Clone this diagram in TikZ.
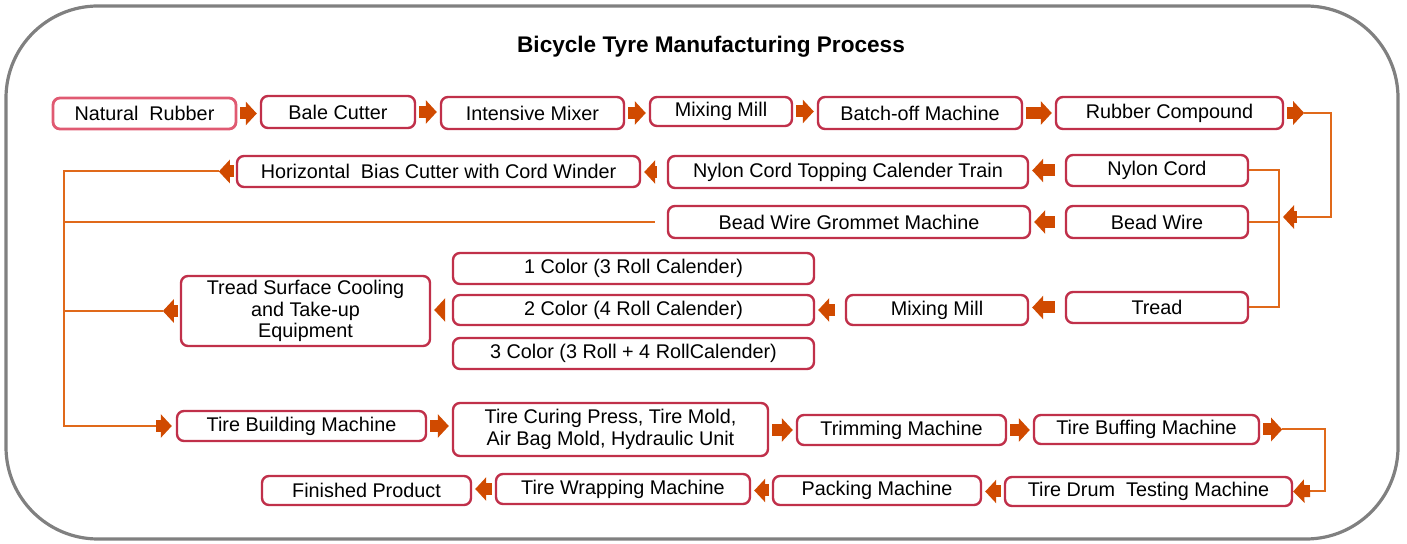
\documentclass[tikz,border=0pt]{standalone}
\usepackage{fontspec}
\setmainfont{Liberation Sans}
\usepackage{xcolor}
\definecolor{cFrame}{HTML}{808080}
\definecolor{cBox}{HTML}{C0304A}
\definecolor{cStart}{HTML}{E05A72}
\definecolor{cArrow}{HTML}{D04A00}
\definecolor{cLine}{HTML}{E0691A}
\usepackage{tikz}
\usetikzlibrary{positioning,arrows.meta,calc}
\tikzset{
  step-box/.style={draw=cBox,line width=1.2pt,rounded corners=3.5pt,
    inner sep=1pt,align=center,font=\fontsize{9.9}{10.8}\selectfont},
  start-box/.style={step-box,draw=cStart,line width=1.4pt},
  blk/.style={-{Triangle[length=5.5pt,width=11.5pt]},line width=6pt,draw=cArrow,
    shorten <=1.5pt,shorten >=1.5pt},
  blk-left/.style={blk,shorten <=5pt},
  feed/.style={draw=cLine,line width=1pt},
  wh/.style 2 args={minimum width=#1*0.5pt,minimum height=#2*0.5pt},
}

\begin{document}
\begin{tikzpicture}[x=0.5pt,y=-0.5pt]
  \useasboundingbox (0,0) rectangle (1407,544);
  \draw[cFrame,line width=1.6pt,rounded corners=46pt] (6,6) rectangle (1398,539);
  \node[font=\fontsize{11.3}{13}\selectfont\bfseries] (title) at (711,47) {Bicycle Tyre Manufacturing Process};

  % rubber line
  \node[start-box,wh={183}{31}] (nr) at (144.5,113.5) {Natural\ \ Rubber};
  \node[step-box,wh={154}{32}] (bc) at (338,112) {Bale Cutter};
  \node[step-box,wh={183}{32}] (im) at (532.5,113) {Intensive Mixer};
  \node[step-box,wh={142}{29}] (mm) at (721,111.5) {Mixing Mill};
  \node[step-box,wh={204}{32}] (bo) at (920,113) {Batch-off Machine};
  \node[step-box,wh={227}{32}] (rc) at (1169.5,113) {Rubber Compound};

  % inputs
  \node[step-box,wh={182}{31}] (nc) at (1157,170.5) {Nylon Cord};
  \node[step-box,wh={360}{32}] (nt) at (848,172) {Nylon Cord Topping Calender Train};
  \node[step-box,wh={403}{31}] (hb) at (438.5,171.5) {Horizontal\ \ Bias Cutter with Cord Winder};
  \node[step-box,wh={182}{32}] (bw) at (1157,222) {Bead Wire};
  \node[step-box,wh={362}{32}] (bg) at (849,222) {Bead Wire Grommet Machine};
  \node[step-box,wh={182}{31}] (tr) at (1157,307.5) {Tread};
  \node[step-box,wh={182}{30}] (mm2) at (937,310) {Mixing Mill};
  \node[step-box,wh={361}{31}] (c1) at (633.5,268.5) {1 Color (3 Roll Calender)};
  \node[step-box,wh={361}{30}] (c2) at (633.5,310) {2 Color (4 Roll Calender)};
  \node[step-box,wh={361}{31}] (c3) at (633.5,353.5) {3 Color (3 Roll + 4 RollCalender)};
  \node[step-box,wh={249}{70}] (ts) at (305.5,311) {Tread Surface Cooling\\and Take-up\\Equipment};

  % tyre line
  \node[step-box,wh={249}{30}] (tb) at (301.5,426) {Tire Building Machine};
  \node[step-box,wh={315}{53}] (tc) at (610.5,429.5) {Tire Curing Press, Tire Mold,\\Air Bag Mold, Hydraulic Unit};
  \node[step-box,wh={209}{30}] (tm) at (901.5,430) {Trimming Machine};
  \node[step-box,wh={225}{29}] (tf) at (1146.5,429.5) {Tire Buffing Machine};
  \node[step-box,wh={287}{29}] (td) at (1148.5,491.5) {Tire Drum\ \ Testing Machine};
  \node[step-box,wh={208}{29}] (pm) at (877,490.5) {Packing Machine};
  \node[step-box,wh={254}{30}] (tw) at (623,489) {Tire Wrapping Machine};
  \node[step-box,wh={209}{29}] (fp) at (366.5,490.5) {Finished Product};

  \draw[blk] (nr.east) -- (nr.east -| bc.west);
  \draw[blk] (bc.east) -- (bc.east -| im.west);
  \draw[blk] (im.east) -- (im.east -| mm.west);
  \draw[blk] (mm.east) -- (mm.east -| bo.west);
  \draw[blk] (bo.east) -- (bo.east -| rc.west);
  \draw[blk,shorten >=0pt] (rc.east) -- ++(20,0) coordinate (rcout);

  \coordinate (bus) at (1279,0);
  \coordinate (lbus) at (64,0);
  \draw[feed] (rcout) -| (1331,217) -- (1297,217);
  \draw[blk,shorten <=0pt,shorten >=0pt] (1297,217) -- (1283,217);
  \draw[feed] (nc.east) -- (nc.east -| bus) -- (bus |- tr.east) -- (tr.east);
  \draw[feed] (bw.east) -- (bw.east -| bus);

  \draw[blk-left] (nc.west) -- (nc.west -| nt.east);
  \draw[blk-left] (nt.west) -- (nt.west -| hb.east);
  \draw[blk-left] (bw.west) -- (bw.west -| bg.east);
  \draw[blk-left] (tr.west) -- (tr.west -| mm2.east);
  \draw[blk-left] (mm2.west) -- (mm2.west -| c2.east);
  \draw[blk-left] (c2.west) -- (c2.west -| ts.east);

  % collecting line on the left
  \draw[blk,shorten <=1pt,shorten >=0pt] (hb.west) -- ++(-17,0) coordinate (hbout);
  \draw[feed] (hbout) -- (hbout -| lbus) -- (lbus |- tb.west) -- ++(92,0) coordinate (tbin);
  \draw[blk,shorten <=0pt,shorten >=2pt] (tbin) -- (tb.west);
  \draw[feed] ([xshift=-6pt]bg.west) -- (bg.west -| lbus);
  \draw[blk,shorten <=1pt,shorten >=0pt] (ts.west) -- ++(-17,0) coordinate (tsout);
  \draw[feed] (tsout) -- (tsout -| lbus);

  \draw[blk] (tb.east) -- (tb.east -| tc.west);
  \draw[blk] (tc.east |- tm.west) -- (tm.west);
  \draw[blk] (tm.east) -- (tm.east -| tf.west);
  \draw[blk,shorten >=0pt] (tf.east) -- ++(22,0) coordinate (tfout);
  \draw[feed] (tfout) -| (1325,491) -- (1310,491);
  \draw[blk,shorten <=0pt,shorten >=0pt] (1310,491) -- (td.east);
  \draw[blk] (td.west) -- (td.west -| pm.east);
  \draw[blk] (pm.west) -- (pm.west -| tw.east);
  \draw[blk] (tw.west) -- (tw.west -| fp.east);
\end{tikzpicture}
\end{document}
